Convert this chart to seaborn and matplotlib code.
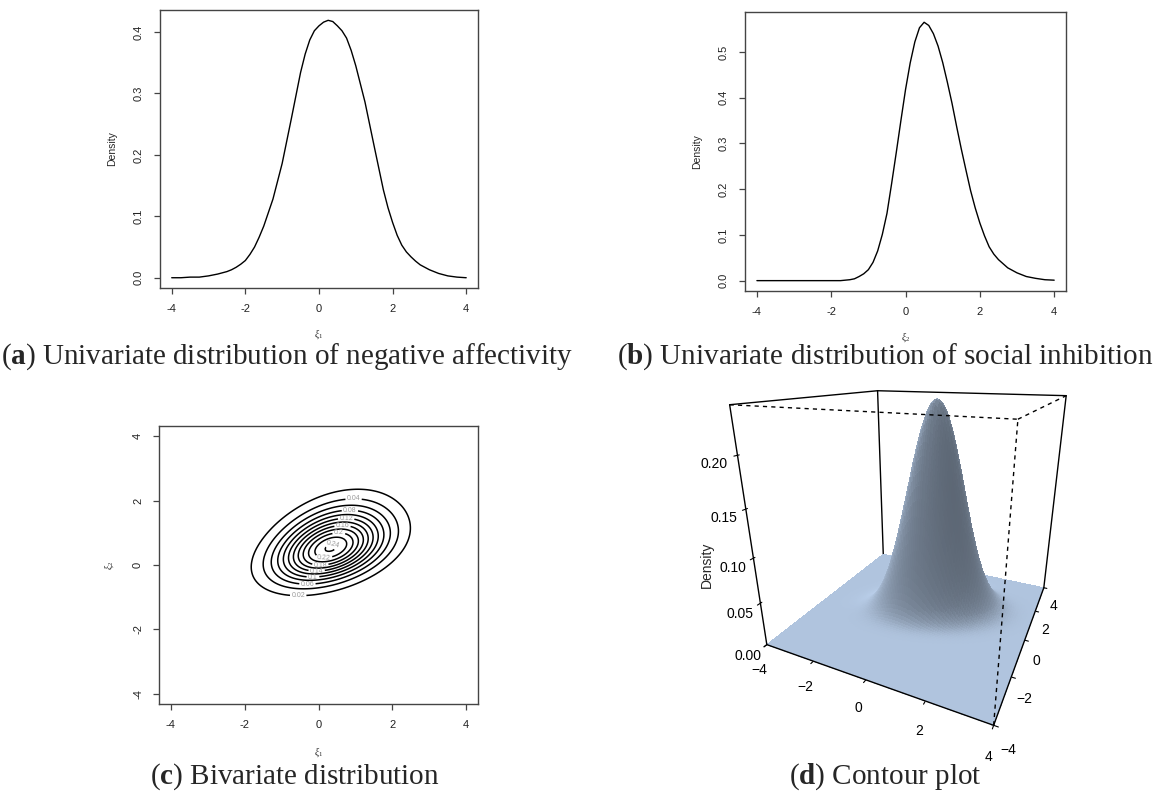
import math
import numpy as np
import matplotlib
matplotlib.use("Agg")
import matplotlib.pyplot as plt
import seaborn as sns
from matplotlib.ticker import FormatStrFormatter

# density of negative affectivity (panel a)
xi1_grid = [-4.00, -3.75, -3.50, -3.25, -3.00, -2.75, -2.50, -2.375, -2.25, -2.125,
            -2.00, -1.875, -1.75, -1.625, -1.50, -1.25, -1.00, -0.75, -0.50, -0.375,
            -0.25, -0.125, 0.00, 0.125, 0.25, 0.375, 0.50, 0.625, 0.75, 0.875,
            1.00, 1.25, 1.50, 1.75, 1.875, 2.00, 2.125, 2.25, 2.375, 2.50,
            2.625, 2.75, 3.00, 3.25, 3.50, 3.75, 4.00]
xi1_density = [0.000, 0.000, 0.001, 0.001, 0.003, 0.006, 0.010, 0.013, 0.017, 0.022,
               0.028, 0.038, 0.050, 0.066, 0.084, 0.128, 0.186, 0.259, 0.334, 0.364,
               0.387, 0.402, 0.410, 0.416, 0.419, 0.417, 0.410, 0.402, 0.390, 0.370,
               0.345, 0.286, 0.214, 0.143, 0.114, 0.090, 0.069, 0.053, 0.042, 0.034,
               0.027, 0.021, 0.013, 0.007, 0.003, 0.001, 0.000]

# density of social inhibition (panel b)
xi2_grid = [-4.00, -3.50, -3.00, -2.50, -2.00, -1.75, -1.50, -1.375, -1.25, -1.125,
            -1.00, -0.875, -0.75, -0.625, -0.50, -0.375, -0.25, -0.125, 0.00, 0.125,
            0.25, 0.375, 0.50, 0.625, 0.75, 0.875, 1.00, 1.125, 1.25, 1.375,
            1.50, 1.625, 1.75, 1.875, 2.00, 2.125, 2.25, 2.375, 2.50, 2.75,
            3.00, 3.25, 3.50, 3.75, 4.00]
xi2_density = [0.000, 0.000, 0.000, 0.000, 0.000, 0.000, 0.002, 0.004, 0.009, 0.015,
               0.024, 0.040, 0.065, 0.101, 0.147, 0.212, 0.280, 0.350, 0.418, 0.476,
               0.522, 0.553, 0.565, 0.558, 0.540, 0.513, 0.477, 0.434, 0.388, 0.337,
               0.288, 0.242, 0.197, 0.159, 0.126, 0.098, 0.074, 0.058, 0.046, 0.028,
               0.017, 0.009, 0.005, 0.002, 0.001]

# bivariate skew-normal, parameters estimated from the contour / surface panels
sn_location = [0.25, 0.02]
sn_scale = [0.97, 0.97]
sn_corr = 0.35
sn_shape = [-0.3, 1.5]
contour_levels = [0.02, 0.04, 0.06, 0.08, 0.10, 0.12, 0.14, 0.16, 0.18, 0.20, 0.22, 0.24]

ticks_x = [-4, -2, 0, 2, 4]
ticks_a = [0.0, 0.1, 0.2, 0.3, 0.4]
ticks_b = [0.0, 0.1, 0.2, 0.3, 0.4, 0.5]
ticks_z = [0.00, 0.05, 0.10, 0.15, 0.20]

captions = [
    "($\\mathbf{a}$) Univariate distribution of negative affectivity",
    "($\\mathbf{b}$) Univariate distribution of social inhibition",
    "($\\mathbf{c}$) Bivariate distribution",
    "($\\mathbf{d}$) Contour plot",
]

sns.set_style("ticks")
plt.rcParams["font.family"] = ["Liberation Sans", "DejaVu Sans"]
plt.rcParams["mathtext.fontset"] = "custom"
plt.rcParams["mathtext.rm"] = "Liberation Serif"
plt.rcParams["mathtext.bf"] = "Liberation Serif:bold"
plt.rcParams["mathtext.it"] = "Liberation Serif:italic"

edge = "#444444"


def skew_normal_2d(x, y):
    zx = (x - sn_location[0]) / sn_scale[0]
    zy = (y - sn_location[1]) / sn_scale[1]
    r = sn_corr
    q = (zx ** 2 - 2 * r * zx * zy + zy ** 2) / (1 - r ** 2)
    phi = np.exp(-q / 2) / (2 * np.pi * sn_scale[0] * sn_scale[1] * np.sqrt(1 - r ** 2))
    erf = np.vectorize(math.erf)
    cdf = 0.5 * (1 + erf((sn_shape[0] * zx + sn_shape[1] * zy) / np.sqrt(2)))
    return 2 * phi * cdf


def r_style(ax, yticks=None, ylabels=None):
    for s in ax.spines.values():
        s.set_visible(True)
        s.set_color(edge)
        s.set_linewidth(1.0)
    ax.tick_params(direction="out", length=4.5, width=0.9, color=edge,
                   labelsize=8, labelcolor="#222222")
    ax.tick_params(axis="x", pad=7)
    ax.tick_params(axis="y", pad=7, labelrotation=90)
    ax.set_xticks(ticks_x)
    ax.set_xticklabels([str(t) for t in ticks_x])
    if yticks is not None:
        ax.set_yticks(yticks)
        ax.set_yticklabels(ylabels)
    for lab in ax.get_yticklabels():
        lab.set_va("center")


def pad_range(lo, hi):
    d = (hi - lo) * 0.04
    return lo - d, hi + d


fig = plt.figure(figsize=(11.54, 7.95), dpi=100)

# (a)
ax_a = fig.add_axes([0.1386, 0.6377, 0.2756, 0.3497])
sns.lineplot(x=xi1_grid, y=xi1_density, ax=ax_a, color="black", lw=1.0)
ax_a.set_xlim(*pad_range(-4, 4))
ax_a.set_ylim(*pad_range(min(xi1_density), max(xi1_density)))
r_style(ax_a, ticks_a, [f"{t:.1f}" for t in ticks_a])
ax_a.set_xlabel(r"$\xi_1$", fontsize=7)
ax_a.set_ylabel("Density", fontsize=7.5)
ax_a.xaxis.set_label_coords(0.5, -0.14)
ax_a.yaxis.set_label_coords(-0.135, 0.5)

# (b)
ax_b = fig.add_axes([0.6456, 0.634, 0.2782, 0.351])
sns.lineplot(x=xi2_grid, y=xi2_density, ax=ax_b, color="black", lw=1.0)
ax_b.set_xlim(*pad_range(-4, 4))
ax_b.set_ylim(*pad_range(min(xi2_density), max(xi2_density)))
r_style(ax_b, ticks_b, [f"{t:.1f}" for t in ticks_b])
ax_b.set_xlabel(r"$\xi_2$", fontsize=7)
ax_b.set_ylabel("Density", fontsize=7.5)
ax_b.xaxis.set_label_coords(0.5, -0.14)
ax_b.yaxis.set_label_coords(-0.135, 0.5)

# (c) contour
gx = np.linspace(-4, 4, 161)
GX, GY = np.meshgrid(gx, gx)
GZ = skew_normal_2d(GX, GY)

ax_c = fig.add_axes([0.1378, 0.1145, 0.2764, 0.3497])
cs = ax_c.contour(GX, GY, GZ, levels=contour_levels, colors="black", linewidths=1.1)
# label positions: alternate bottom / top of each ring, like R's contour()
spots = []
for i, segs in enumerate(cs.allsegs):
    if not segs:
        continue
    v = max(segs, key=len)
    j = np.argmin(v[:, 1]) if i % 2 == 0 else np.argmax(v[:, 1])
    spots.append((v[j, 0], v[j, 1]))
ax_c.clabel(cs, fmt="%g", fontsize=5, colors="#999999", inline=True,
            inline_spacing=2, manual=spots)
ax_c.set_xlim(*pad_range(-4, 4))
ax_c.set_ylim(*pad_range(-4, 4))
r_style(ax_c, ticks_x, [str(t) for t in ticks_x])
ax_c.set_xlabel(r"$\xi_1$", fontsize=7)
ax_c.set_ylabel(r"$\xi_2$", fontsize=7)
ax_c.xaxis.set_label_coords(0.5, -0.15)
ax_c.yaxis.set_label_coords(-0.135, 0.5)

# (d) perspective surface
sx = np.linspace(-4, 4, 110)
SX, SY = np.meshgrid(sx, sx)
SZ = skew_normal_2d(SX, SY)
zmax = SZ.max()

# shading, R persp style: light from the back left, mostly from above
dzdy, dzdx = np.gradient(SZ / zmax, sx / 8, sx / 8)
nrm = np.dstack([-dzdx, -dzdy, np.ones_like(SZ)])
nrm /= np.linalg.norm(nrm, axis=2, keepdims=True)
light = np.array([-0.55, 0.45, 0.9])
light /= np.linalg.norm(light)
inten = ((1 + nrm @ light) / 2) ** 0.5 / ((1 + light[2]) / 2) ** 0.5
base = np.array([176, 196, 222]) / 255
fc = np.clip(base[None, None, :] * inten[:, :, None], 0, 1)

ax_d = fig.add_axes([0.583, 0.063, 0.42, 0.56], projection="3d", computed_zorder=False)
ax_d.patch.set_visible(False)
ax_d.set_proj_type("persp", focal_length=0.17)
ax_d.view_init(elev=20, azim=-65)
ax_d.set_box_aspect((1, 1, 1), zoom=0.85)
ax_d.plot_surface(SX, SY, SZ, rstride=1, cstride=1, facecolors=fc, shade=False,
                  linewidth=0, antialiased=False, zorder=2)
ax_d.set_xlim(-4, 4)
ax_d.set_ylim(-4, 4)
ax_d.set_zlim(0, zmax)

lo, hi = -4, 4
solid = [
    ((lo, lo), (lo, hi), (zmax, zmax)),
    ((lo, hi), (hi, hi), (zmax, zmax)),
    ((lo, lo), (lo, lo), (0, zmax)),
    ((hi, hi), (hi, hi), (0, zmax)),
    ((lo, lo), (hi, hi), (0, zmax)),
    ((lo, hi), (lo, lo), (0, 0)),
    ((hi, hi), (lo, hi), (0, 0)),
]
dashed = [
    ((lo, hi), (lo, lo), (zmax, zmax)),
    ((hi, hi), (lo, hi), (zmax, zmax)),
    ((hi, hi), (lo, lo), (0, zmax)),
]
for i, (xs, ys, zs) in enumerate(solid):
    ax_d.plot(xs, ys, zs, color="black", lw=1.0, zorder=1 if i == 4 else 3)
for xs, ys, zs in dashed:
    ax_d.plot(xs, ys, zs, color="black", lw=1.0, ls=(0, (3, 3)), zorder=4)

for axis in (ax_d.xaxis, ax_d.yaxis, ax_d.zaxis):
    axis.set_pane_color((1, 1, 1, 0))
    axis.pane.set_edgecolor((1, 1, 1, 0))
    axis.line.set_color((1, 1, 1, 0))
ax_d.grid(False)
ax_d.set_xticks(ticks_x)
ax_d.set_yticks(ticks_x)
ax_d.set_zticks(ticks_z)
ax_d.zaxis.set_ticks_position("lower")
ax_d.zaxis.set_major_formatter(FormatStrFormatter("%.2f"))
ax_d.tick_params(labelsize=10, colors="black", pad=1)
fig.text(707 / 1154, 1 - 565 / 795, "Density", rotation=90, fontsize=10,
         ha="center", va="center")

# captions
cap_font = dict(family="Liberation Serif", fontsize=21, va="center")
fig.text(1 / 1154, 1 - 357 / 795, captions[0], ha="left", **cap_font)
fig.text(1153 / 1154, 1 - 357 / 795, captions[1], ha="right", **cap_font)
fig.text(295 / 1154, 1 - 777 / 795, captions[2], ha="center", **cap_font)
fig.text(885 / 1154, 1 - 777 / 795, captions[3], ha="center", **cap_font)

fig.savefig("out.png", dpi=100, facecolor="white")
